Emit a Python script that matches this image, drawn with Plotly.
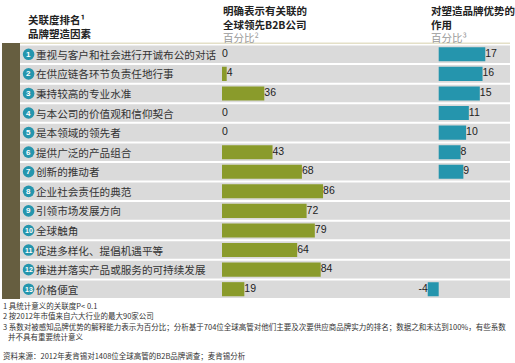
import plotly.graph_objects as go

W, H = 515, 363

factors = [
    "重视与客户和社会进行开诚布公的对话",
    "在供应链各环节负责任地行事",
    "秉持较高的专业水准",
    "与本公司的价值观和信仰契合",
    "是本领域的领先者",
    "提供广泛的产品组合",
    "创新的推动者",
    "企业社会责任的典范",
    "引领市场发展方向",
    "全球触角",
    "促进多样化、提倡机遇平等",
    "推进并落实产品或服务的可持续发展",
    "价格便宜",
]
ranks = list(range(1, 14))
associated_pct = [0, 4, 36, 0, 0, 43, 68, 86, 72, 79, 64, 84, 19]
contribution_pct = [17, 16, 15, 11, 10, 8, 9, None, None, None, None, None, -4]

footnotes = [
    "1 具统计意义的关联度P< 0.1",
    "2 按2012年市值来自六大行业的最大90家公司",
    "3 系数对被感知品牌优势的解释能力表示为百分比；分析基于704位全球高管对他们主要及次要供应商品牌实力的排名；数据之和未达到100%，有些系数",
    "   并不具有重要统计意义",
]
source = "资料来源：2012年麦肯锡对1408位全球高管的B2B品牌调查；麦肯锡分析"

GREEN = "#8a9b2b"
TEAL = "#2595ad"
ROW = "#dadada"
STRIP = "#665e40"
CJK = "Noto Sans CJK SC"
LAT = "Liberation Sans, Arial, sans-serif"

def px(x):
    return x / W

def py(y):
    return 1 - y / H

n = len(factors)
ypos = list(range(n))

fig = go.Figure()

fig.add_trace(go.Bar(
    y=ypos, x=associated_pct, orientation="h", xaxis="x", yaxis="y",
    marker=dict(color=GREEN, line=dict(width=0)), width=0.72, hoverinfo="skip",
))
fig.add_trace(go.Scatter(
    y=ypos, x=associated_pct, mode="text", xaxis="x", yaxis="y",
    text=[str(v) for v in associated_pct], textposition="middle right",
    textfont=dict(family=LAT, size=10.5, color="#222"), cliponaxis=False, hoverinfo="skip",
))

ty = [i for i, v in zip(ypos, contribution_pct) if v is not None]
tv = [v for v in contribution_pct if v is not None]
fig.add_trace(go.Bar(
    y=ty, x=tv, orientation="h", xaxis="x2", yaxis="y",
    marker=dict(color=TEAL, line=dict(width=0)), width=0.72, hoverinfo="skip",
))
fig.add_trace(go.Scatter(
    y=ty, x=tv, mode="text", xaxis="x2", yaxis="y",
    text=[str(v) for v in tv],
    textposition=["middle left" if v < 0 else "middle right" for v in tv],
    textfont=dict(family=LAT, size=10.5, color="#222"), cliponaxis=False, hoverinfo="skip",
))

shapes = []
shapes.append(dict(type="rect", xref="paper", yref="paper", x0=px(2), x1=px(20),
                   y0=py(299), y1=py(43), fillcolor=STRIP, line=dict(width=0), layer="below"))
shapes.append(dict(type="line", xref="paper", yref="paper", x0=px(20), x1=px(510),
                   y0=py(43.3), y1=py(43.3), line=dict(color="#e4e0c8", width=1.5), layer="below"))
gap = 1.0 / 19.55
for i in ypos:
    shapes.append(dict(type="rect", xref="paper", yref="y", x0=px(20), x1=px(510),
                       y0=i - 0.5 + gap, y1=i + 0.5 - gap, fillcolor=ROW,
                       line=dict(width=0), layer="below"))
    shapes.append(dict(type="circle", xref="paper", yref="y",
                       xsizemode="pixel", ysizemode="pixel",
                       xanchor=px(28.6), yanchor=i, x0=-5.8, x1=5.8, y0=-5.8, y1=5.8,
                       fillcolor=TEAL, line=dict(width=0), layer="above"))

ann = []
for i, (r, lab) in enumerate(zip(ranks, factors)):
    ann.append(dict(xref="paper", yref="y", x=px(28.6), y=i, text="<b>%d</b>" % r,
                    showarrow=False, xanchor="center", yanchor="middle",
                    font=dict(family=LAT, size=8 if r < 10 else 7, color="white")))
    ann.append(dict(xref="paper", yref="y", x=px(33.5), y=i, text=lab,
                    showarrow=False, xanchor="left", yanchor="middle",
                    font=dict(family=CJK, size=10.6, color="#333")))

def note(x, y, text, color="#222", size=10.5):
    ann.append(dict(xref="paper", yref="paper", x=px(x), y=py(y), text=text,
                    showarrow=False, xanchor="left", yanchor="middle", align="left",
                    font=dict(family=CJK, size=size, color=color)))

GRAY = "<span style='color:#9a9a9a'>%s</span>"
note(26, 27, "<b>关联度排名¹</b><br><b>品牌塑造因素</b>")
note(221, 24, "<b>明确表示有关联的</b><br><b>全球领先B2B公司</b><br>" + GRAY % "百分比²")
note(429, 24, "<b>对塑造品牌优势的</b><br><b>作用</b><br>" + GRAY % "百分比³")

note(1, 305, footnotes[0], color="#333", size=7.5)
note(1, 315.5, footnotes[1], color="#333", size=7.5)
note(1, 331.5, footnotes[2] + "<br>" + footnotes[3], color="#333", size=7.5)
note(1, 355.5, source, color="#333", size=7.5)

fig.update_layout(
    width=W, height=H,
    margin=dict(l=0, r=0, t=0, b=0),
    paper_bgcolor="white", plot_bgcolor="rgba(0,0,0,0)",
    showlegend=False, barmode="overlay",
    xaxis=dict(domain=[px(222), px(339.5)], range=[0, 100], visible=False, anchor="y", fixedrange=True),
    xaxis2=dict(domain=[px(411.3), px(507.2)], range=[-10, 25], visible=False, anchor="y", fixedrange=True),
    yaxis=dict(domain=[py(299), py(44.5)], range=[n - 0.5, -0.5], visible=False, anchor="x", fixedrange=True),
    shapes=shapes, annotations=ann,
)

fig.write_html(
    "out.html",
    config={"displayModeBar": False},
    post_script="document.body.style.margin='0';document.body.style.padding='0';document.body.style.overflow='hidden';",
)
